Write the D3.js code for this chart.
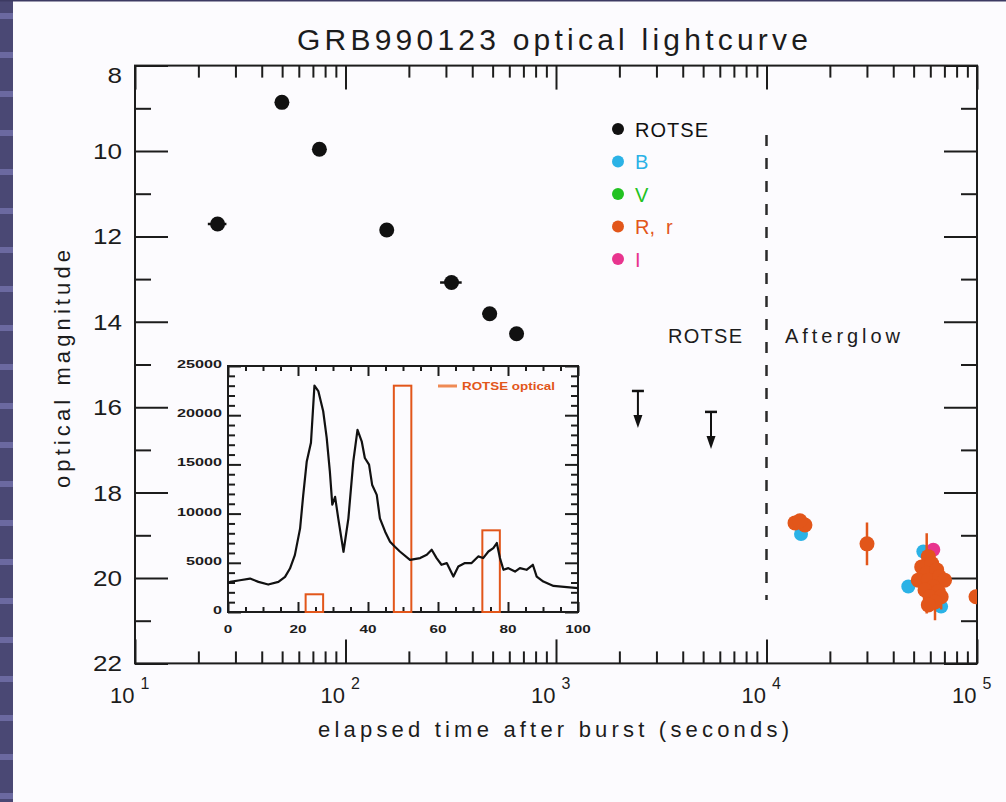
<!DOCTYPE html>
<html>
<head>
<meta charset="utf-8">
<script src="https://cdn.jsdelivr.net/npm/d3@7"></script>
<style>
html, body { margin: 0; padding: 0; background: #fcfbfe; }
svg { display: block; font-family: "Liberation Sans", Arial, sans-serif; }
</style>
</head>
<body>
<svg id="chart" width="1006" height="802"></svg>
<script>
// ROTSE prompt points: mid time (s), exposure start / end, magnitude
const rotseTime = [24.68, 49.88, 75.17, 157.0, 318.9, 484.2, 649.7];
const rotseStart = [22.18, 47.38, 72.67, 154.5, 281.4, 446.7, 612.2];
const rotseEnd = [27.18, 52.38, 77.67, 159.5, 356.4, 521.7, 687.2];
const rotseMag = [11.71, 8.86, 9.96, 11.85, 13.08, 13.81, 14.28];

// ROTSE upper limits
const limitTime = [2450, 5450];
const limitMag = [15.62, 16.11];

// afterglow photometry
const bTime = [14590, 55600, 47170, 67530];
const bMag = [18.97, 19.38, 20.20, 20.67];
const vTime = [63600];
const vMag = [19.88];
const iTime = [62000];
const iMag = [19.34];
const rTime = [13660, 15230, 14420, 30020, 58700, 54620, 60930, 57680, 64370, 52630, 58700, 66360, 70090, 62000, 56620, 65520, 59800, 67570, 63170, 58700, 98900];
const rMag = [18.71, 18.76, 18.66, 19.20, 19.50, 19.74, 19.66, 19.89, 19.81, 20.05, 20.05, 19.97, 20.05, 20.20, 20.28, 20.32, 20.44, 20.44, 20.56, 20.63, 20.44];
const rErr = [0, 0, 0, 0.5, 0, 0, 0, 0.94, 0, 0, 0, 0, 0, 0, 0, 0, 0, 0.3, 0.43, 0, 0];

// legend
const legendNames = ['ROTSE', 'B', 'V', 'R,  r', 'I'];
const legendColors = ['#111111', '#2bb2e6', '#22c222', '#e2561a', '#e8348e'];

// inset: BATSE gamma-ray counts vs time
const insetTime = [0, 0.6, 3.4, 6.3, 8.7, 11.5, 14.4, 16.3, 17.7, 19.1, 20.6, 21.5, 22.5, 23.7, 24.7, 25.8, 27.2, 28.2, 29.1, 29.8, 30.6, 31.5, 33.0, 34.4, 35.8, 37.0, 38.2, 39.1, 40.3, 41.2, 42.5, 43.4, 44.9, 46.3, 47.7, 49.1, 52.0, 54.9, 56.8, 58.2, 59.6, 61.0, 62.5, 64.4, 65.8, 67.7, 69.6, 71.5, 72.9, 74.4, 75.8, 76.8, 77.7, 78.7, 80.1, 82.0, 83.4, 85.3, 87.1, 88.2, 90.1, 93.0, 96.8, 100];
const insetCounts = [2950, 3060, 3230, 3400, 3060, 2790, 3060, 3570, 4420, 5780, 8500, 11900, 15300, 17200, 23000, 22450, 20400, 17700, 14300, 10900, 11700, 9520, 6120, 9520, 15300, 18500, 17350, 15650, 14970, 12900, 11900, 9520, 8160, 7140, 6630, 6150, 5300, 5480, 5820, 6330, 5480, 4800, 4970, 3600, 4620, 4970, 4970, 5650, 5480, 6150, 6500, 7010, 5480, 4290, 4460, 4110, 4460, 4290, 4800, 3600, 3090, 2650, 2520, 2420];
// ROTSE optical exposures drawn in the inset
const barStart = [22.18, 47.38, 72.67];
const barEnd = [27.18, 52.38, 77.67];
const barHeight = [1800, 23000, 8300];

const INK = '#1c1c1c';
const ORANGE = '#e2561a';

const svg = d3.select('#chart');

// slide decoration
svg.append('rect').attr('x', 0).attr('y', 0).attr('width', 13).attr('height', 802).attr('fill', '#4a4874');
svg.append('g').selectAll('rect').data(d3.range(13, 802, 39)).join('rect')
    .attr('x', 0).attr('y', d => d).attr('width', 13).attr('height', 6).attr('fill', '#6b69a0');
svg.append('rect').attr('x', 0).attr('y', 0).attr('width', 1006).attr('height', 1.5).attr('fill', '#3c3a62');

// main scales
const x = d3.scaleLog().domain([10, 1e5]).range([135, 977]);
const y = d3.scaleLinear().domain([8, 22]).range([65.6, 663.4]);

// title
svg.append('text').attr('x', 297).attr('y', 50)
    .attr('font-size', 30).attr('fill', INK)
    .attr('textLength', 511).attr('lengthAdjust', 'spacing')
    .text('GRB990123 optical lightcurve');

// ticks
const xMajor = [10, 100, 1000, 1e4, 1e5];
const xMinor = [];
[10, 100, 1000, 1e4].forEach(d => { for (let k = 2; k <= 9; k++) xMinor.push(d * k); });
const yMajor = d3.range(8, 23, 2);
const yMinor = d3.range(9, 22, 2);

function tickGroup(axisFn, pos, values, size) {
    const g = svg.append('g').attr('transform', pos)
        .call(axisFn.tickValues(values).tickSize(size).tickFormat(''));
    g.select('.domain').remove();
    g.selectAll('line').attr('stroke', INK).attr('stroke-width', 2);
}
tickGroup(d3.axisBottom(x), `translate(0,${y(22)})`, xMajor, -24);
tickGroup(d3.axisBottom(x), `translate(0,${y(22)})`, xMinor, -12);
tickGroup(d3.axisTop(x), `translate(0,${y(8)})`, xMajor, -24);
tickGroup(d3.axisTop(x), `translate(0,${y(8)})`, xMinor, -12);
tickGroup(d3.axisLeft(y), `translate(${x(10)},0)`, yMajor, -33);
tickGroup(d3.axisLeft(y), `translate(${x(10)},0)`, yMinor, -16);
tickGroup(d3.axisRight(y), `translate(${x(1e5)},0)`, yMajor, -33);
tickGroup(d3.axisRight(y), `translate(${x(1e5)},0)`, yMinor, -16);

// frame
svg.append('rect').attr('x', x(10)).attr('y', y(8))
    .attr('width', x(1e5) - x(10)).attr('height', y(22) - y(8))
    .attr('fill', 'none').attr('stroke', INK).attr('stroke-width', 2);

// y tick labels (top one sits a little lower, as in the original)
svg.append('g').selectAll('text').data(yMajor).join('text')
    .attr('x', 122).attr('y', d => y(d) + (d === 8 ? 17 : 8))
    .attr('text-anchor', 'end').attr('font-size', 22).attr('fill', INK)
    .attr('textLength', d => String(d).length * 14.5).attr('lengthAdjust', 'spacingAndGlyphs')
    .text(d => d);

// x tick labels 10^n
const xl = svg.append('g').selectAll('text').data(xMajor).join('text')
    .attr('x', d => x(d) - 25).attr('y', 703)
    .attr('font-size', 22).attr('fill', INK);
xl.append('tspan').text('10');
xl.append('tspan').attr('dx', 6).attr('dy', -14).attr('font-size', 16).text(d => Math.round(Math.log10(d)));

// axis titles
svg.append('text').attr('x', 318).attr('y', 737)
    .attr('font-size', 22).attr('fill', INK)
    .attr('textLength', 471).attr('lengthAdjust', 'spacing')
    .text('elapsed time after burst (seconds)');
svg.append('text').attr('transform', 'translate(70,488) rotate(-90)')
    .attr('font-size', 22).attr('fill', INK)
    .attr('textLength', 238).attr('lengthAdjust', 'spacing')
    .text('optical magnitude');

// clip for data
svg.append('defs').append('clipPath').attr('id', 'plot-clip')
    .append('rect').attr('x', x(10)).attr('y', y(8))
    .attr('width', x(1e5) - x(10)).attr('height', y(22) - y(8));
const plot = svg.append('g').attr('clip-path', 'url(#plot-clip)');

// ROTSE / Afterglow divider
plot.append('line')
    .attr('x1', x(1e4)).attr('x2', x(1e4)).attr('y1', 135).attr('y2', 600)
    .attr('stroke', '#2a2a2a').attr('stroke-width', 2.5).attr('stroke-dasharray', '11,12');

svg.append('text').attr('x', 668).attr('y', 343).attr('font-size', 20).attr('fill', INK)
    .attr('textLength', 74).attr('lengthAdjust', 'spacing').text('ROTSE');
svg.append('text').attr('x', 785).attr('y', 343).attr('font-size', 20).attr('fill', INK)
    .attr('textLength', 115).attr('lengthAdjust', 'spacing').text('Afterglow');

// ROTSE points with exposure bars
plot.append('g').selectAll('line').data(rotseTime).join('line')
    .attr('x1', (d, i) => x(rotseStart[i])).attr('x2', (d, i) => x(rotseEnd[i]))
    .attr('y1', (d, i) => y(rotseMag[i])).attr('y2', (d, i) => y(rotseMag[i]))
    .attr('stroke', '#111').attr('stroke-width', 2.5);
plot.append('g').selectAll('circle').data(rotseTime).join('circle')
    .attr('cx', d => x(d)).attr('cy', (d, i) => y(rotseMag[i])).attr('r', 7.5)
    .attr('fill', '#111');

// upper limits
const lim = plot.append('g').selectAll('g').data(limitTime).join('g')
    .attr('transform', (d, i) => `translate(${x(d)},${y(limitMag[i])})`);
lim.append('line').attr('x1', -6).attr('x2', 6).attr('stroke', '#111').attr('stroke-width', 2.5);
lim.append('line').attr('y1', 0).attr('y2', 28).attr('stroke', '#111').attr('stroke-width', 2);
lim.append('path').attr('d', 'M-4.5,24 L4.5,24 L0,37 Z').attr('fill', '#111');

// afterglow
function drawBand(times, mags, errs, color, r) {
    const g = plot.append('g');
    const idx = d3.range(times.length);
    if (errs) {
        g.selectAll('line').data(idx.filter(i => errs[i] > 0)).join('line')
            .attr('x1', i => x(times[i])).attr('x2', i => x(times[i]))
            .attr('y1', i => y(mags[i] - errs[i])).attr('y2', i => y(mags[i] + errs[i]))
            .attr('stroke', color).attr('stroke-width', 2.5);
    }
    g.selectAll('circle').data(idx).join('circle')
        .attr('cx', i => x(times[i])).attr('cy', i => y(mags[i])).attr('r', r)
        .attr('fill', color);
}
drawBand(bTime, bMag, null, legendColors[1], 7);
drawBand(iTime, iMag, null, legendColors[4], 7);
drawBand(vTime, vMag, null, legendColors[2], 5);
drawBand(rTime, rMag, rErr, legendColors[3], 7.5);

// legend
const leg = svg.append('g').selectAll('g').data(legendNames).join('g')
    .attr('transform', (d, i) => `translate(618,${129 + i * 32.5})`);
leg.append('circle').attr('r', 6).attr('fill', (d, i) => legendColors[i]);
leg.append('text').attr('x', 17).attr('y', 7.5).attr('font-size', 20)
    .attr('fill', (d, i) => legendColors[i])
    .attr('textLength', d => d === 'ROTSE' ? 73 : null).attr('lengthAdjust', 'spacing')
    .attr('xml:space', 'preserve')
    .text(d => d);

// ---------- inset ----------
const xi = d3.scaleLinear().domain([0, 100]).range([228, 578]);
const yi = d3.scaleLinear().domain([0, 25000]).range([612, 366]);

svg.append('rect').attr('x', xi(0)).attr('y', yi(25000))
    .attr('width', xi(100) - xi(0)).attr('height', yi(0) - yi(25000)).attr('fill', '#fcfbfe');

function insetTicks(axisFn, pos, values, size) {
    const g = svg.append('g').attr('transform', pos)
        .call(axisFn.tickValues(values).tickSize(size).tickFormat(''));
    g.select('.domain').remove();
    g.selectAll('line').attr('stroke', INK).attr('stroke-width', 2);
}
const xiMajor = d3.range(0, 101, 20);
const xiMinor = d3.range(0, 101, 5).filter(d => d % 20 !== 0);
const yiMajor = d3.range(0, 25001, 5000);
const yiMinor = d3.range(0, 25001, 1000).filter(d => d % 5000 !== 0);
insetTicks(d3.axisBottom(xi), `translate(0,${yi(0)})`, xiMajor, -10);
insetTicks(d3.axisBottom(xi), `translate(0,${yi(0)})`, xiMinor, -5);
insetTicks(d3.axisTop(xi), `translate(0,${yi(25000)})`, xiMajor, -10);
insetTicks(d3.axisTop(xi), `translate(0,${yi(25000)})`, xiMinor, -5);
insetTicks(d3.axisLeft(yi), `translate(${xi(0)},0)`, yiMajor, -13);
insetTicks(d3.axisLeft(yi), `translate(${xi(0)},0)`, yiMinor, -7);
insetTicks(d3.axisRight(yi), `translate(${xi(100)},0)`, yiMajor, -13);
insetTicks(d3.axisRight(yi), `translate(${xi(100)},0)`, yiMinor, -7);

svg.append('rect').attr('x', xi(0)).attr('y', yi(25000))
    .attr('width', xi(100) - xi(0)).attr('height', yi(0) - yi(25000))
    .attr('fill', 'none').attr('stroke', INK).attr('stroke-width', 2);

svg.append('g').selectAll('text').data(yiMajor).join('text')
    .attr('x', 222).attr('y', d => yi(d) + 2)
    .attr('text-anchor', 'end').attr('font-size', 11).attr('font-weight', 'bold').attr('fill', INK)
    .attr('textLength', d => String(d).length * 9).attr('lengthAdjust', 'spacingAndGlyphs')
    .text(d => d);
svg.append('g').selectAll('text').data(xiMajor).join('text')
    .attr('x', d => xi(d)).attr('y', 633)
    .attr('text-anchor', 'middle').attr('font-size', 11).attr('font-weight', 'bold').attr('fill', INK)
    .attr('textLength', d => String(d).length * 8.5).attr('lengthAdjust', 'spacingAndGlyphs')
    .text(d => d);

// exposure boxes
svg.append('g').selectAll('rect').data(barStart).join('rect')
    .attr('x', d => xi(d)).attr('y', (d, i) => yi(barHeight[i]))
    .attr('width', (d, i) => xi(barEnd[i]) - xi(d))
    .attr('height', (d, i) => yi(0) - yi(barHeight[i]))
    .attr('fill', 'none').attr('stroke', ORANGE).attr('stroke-width', 2);

// gamma-ray curve
const line = d3.line().x((d, i) => xi(insetTime[i])).y(d => yi(d));
svg.append('path').datum(insetCounts)
    .attr('d', line).attr('fill', 'none')
    .attr('stroke', '#111').attr('stroke-width', 2.2).attr('stroke-linejoin', 'round');

// inset legend
svg.append('line').attr('x1', 438).attr('x2', 457).attr('y1', 386).attr('y2', 386)
    .attr('stroke', '#ef8a55').attr('stroke-width', 3);
svg.append('text').attr('x', 462).attr('y', 390)
    .attr('font-size', 11).attr('font-weight', 'bold').attr('fill', ORANGE)
    .attr('textLength', 93).attr('lengthAdjust', 'spacingAndGlyphs')
    .text('ROTSE optical');
</script>
</body>
</html>
